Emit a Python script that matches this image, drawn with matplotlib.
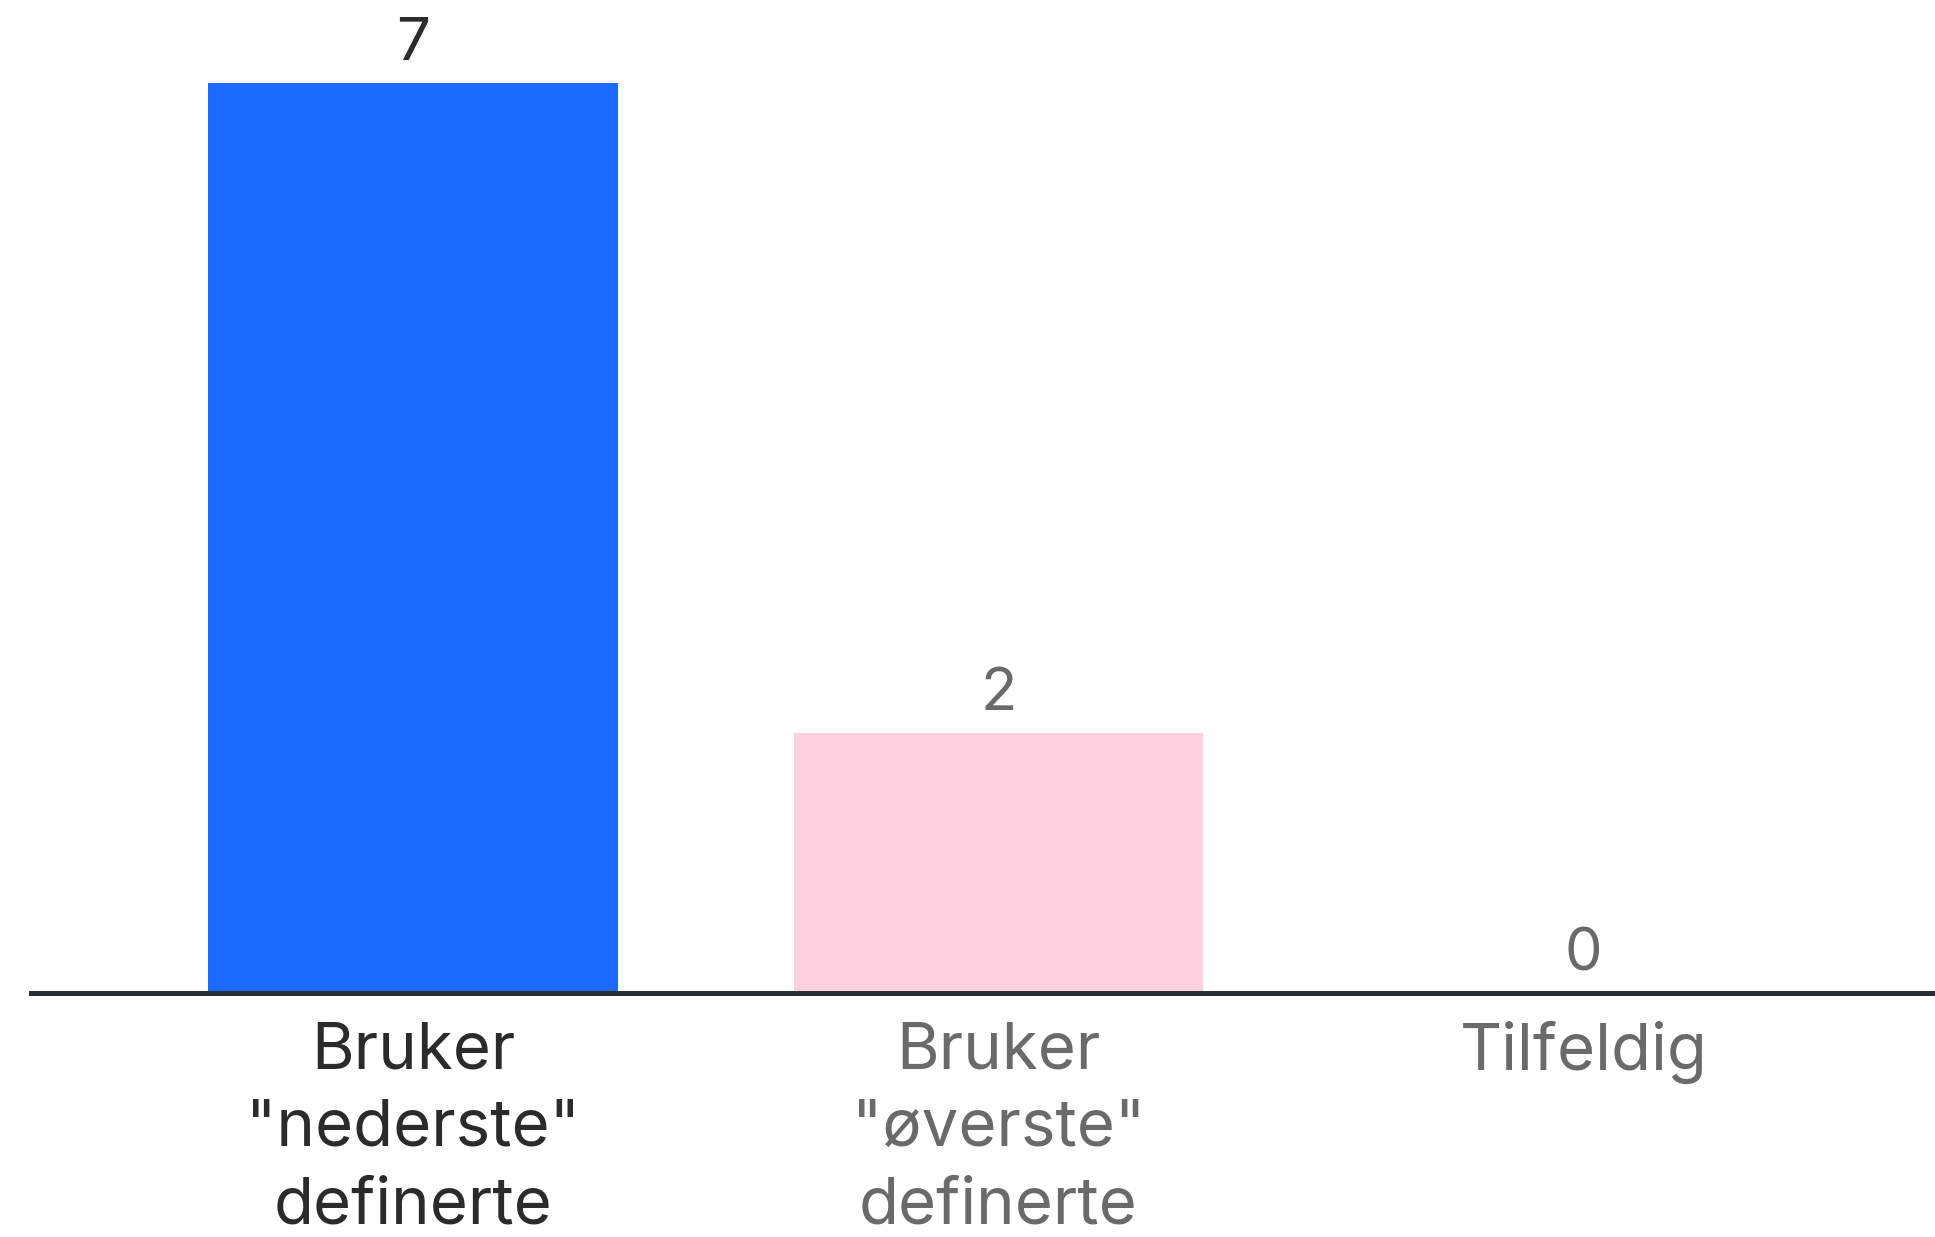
import matplotlib.pyplot as plt
import numpy as np

categories = ['Bruker\n"nederste"\ndefinerte', 'Bruker\n"øverste"\ndefinerte', 'Tilfeldig']
values = [7, 2, 0]
bar_colors = ['#1b69ff', '#fdd0df', '#fdd0df']
text_colors = ['#2b2b2b', '#6a6a6a', '#6a6a6a']

plt.rcParams['font.family'] = ['Inter', 'DejaVu Sans']

fig = plt.figure(figsize=(19.35, 12.37), dpi=100)
ax = fig.add_axes([0.016, 0.197, 0.984, 0.803])

x = np.arange(len(categories))
bars = ax.bar(x, values, width=0.70, color=bar_colors)

for xi, v, c in zip(x, values, text_colors):
    ax.annotate(str(v), (xi, v), xytext=(0, 8), textcoords='offset points',
                ha='center', va='bottom', fontsize=43, color=c)

ax.set_xlim(-0.653, 2.6)
ax.set_ylim(0, 7.64)
ax.set_xticks(x)
ax.set_xticklabels(categories, fontsize=47, linespacing=1.38)
for lbl, c in zip(ax.get_xticklabels(), text_colors):
    lbl.set_color(c)
ax.tick_params(axis='x', length=0, pad=20)
ax.set_yticks([])

for s in ['top', 'right', 'left']:
    ax.spines[s].set_visible(False)
ax.spines['bottom'].set_color('#2a2f36')
ax.spines['bottom'].set_linewidth(3.6)

plt.savefig('out.png', dpi=100)
